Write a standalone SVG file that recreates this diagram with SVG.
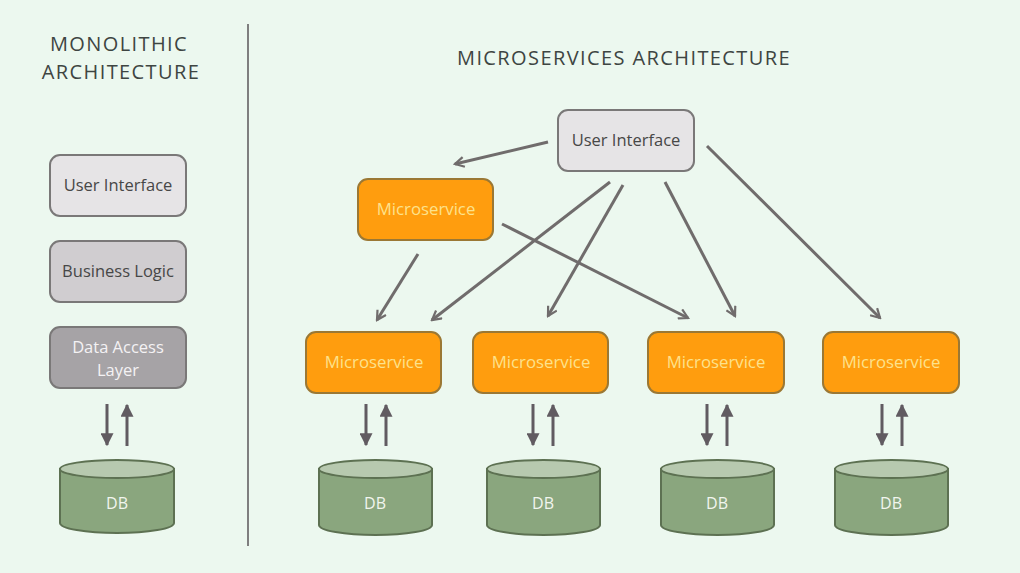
<svg xmlns="http://www.w3.org/2000/svg" width="1020" height="573" viewBox="0 0 1020 573">
<defs>
<marker id="open" viewBox="0 0 12 12" refX="10" refY="6" markerWidth="12" markerHeight="12" markerUnits="userSpaceOnUse" orient="auto">
<path d="M1,1 L10,6 L1,11" fill="none" stroke="#706c6c" stroke-width="2.2"/>
</marker>
<marker id="solid" viewBox="0 0 10 10" refX="9" refY="5" markerWidth="13" markerHeight="13" markerUnits="userSpaceOnUse" orient="auto">
<path d="M0,0 L10,5 L0,10 Z" fill="#615b61"/>
</marker>
</defs>
<style>
text{font-family:"Open Sans","Liberation Sans",sans-serif;text-anchor:middle}
.title{font-size:20px;fill:#3e4542;letter-spacing:1.4px}
.box{stroke:#7a7878;stroke-width:2}
.ms rect{fill:#ff9d0e;stroke:#9b7834;stroke-width:2}
.ms text{fill:#fde28c;font-size:16.8px}
.lbl{font-size:16.5px;fill:#474747}
.db .body{fill:#8aa67e;stroke:#5d7152;stroke-width:2}
.db .top{fill:#b7c9af;stroke:#5d7152;stroke-width:2}
.db text{fill:#f1f5ee;font-size:16px}
.con{stroke:#706c6c;stroke-width:3;fill:none;marker-end:url(#open)}
.dbarr{stroke:#615b61;stroke-width:3;fill:none;marker-end:url(#solid)}
</style>
<rect width="1020" height="573" fill="#ecf8ef"/>
<line x1="248" y1="24" x2="248" y2="546" stroke="#7f7f7f" stroke-width="2"/>
<text class="title" x="119" y="51">MONOLITHIC</text>
<text class="title" x="121" y="79">ARCHITECTURE</text>
<text class="title" x="624" y="65">MICROSERVICES ARCHITECTURE</text>

<g id="mono-ui"><rect class="box" x="50" y="155" width="136" height="61" rx="10" fill="#e6e4e6"/><text class="lbl" x="118" y="191">User Interface</text></g>
<g id="mono-bl"><rect class="box" x="50" y="241" width="136" height="61" rx="10" fill="#d0cdd0"/><text class="lbl" x="118" y="277">Business Logic</text></g>
<g id="mono-dal"><rect class="box" x="50" y="327" width="136" height="61" rx="10" fill="#a6a3a6"/><text x="118" y="353" style="font-size:16.5px;fill:#f4f2f4">Data Access</text><text x="118" y="376" style="font-size:16.5px;fill:#f4f2f4">Layer</text></g>
<g id="mono-db" class="db"><path class="body" d="M60,469 L60,523 A57,10 0 0 0 174,523 L174,469 Z"/><ellipse class="top" cx="117" cy="469" rx="57" ry="9"/><text x="117" y="509">DB</text></g>

<g id="ui"><rect class="box" x="558" y="110" width="136" height="61" rx="10" fill="#e6e4e6"/><text class="lbl" x="626" y="146">User Interface</text></g>
<g id="ms-top" class="ms"><rect x="358" y="179" width="135" height="61" rx="10"/><text x="426" y="215">Microservice</text></g>
<g id="ms1" class="ms"><rect x="306" y="332" width="135" height="61" rx="10"/><text x="374" y="368">Microservice</text></g>
<g id="ms2" class="ms"><rect x="473" y="332" width="135" height="61" rx="10"/><text x="541" y="368">Microservice</text></g>
<g id="ms3" class="ms"><rect x="648" y="332" width="136" height="61" rx="10"/><text x="716" y="368">Microservice</text></g>
<g id="ms4" class="ms"><rect x="823" y="332" width="136" height="61" rx="10"/><text x="891" y="368">Microservice</text></g>

<g id="db1" class="db"><path class="body" d="M319,469 L319,525 A56.5,10 0 0 0 432,525 L432,469 Z"/><ellipse class="top" cx="375.5" cy="469" rx="56.5" ry="9"/><text x="375" y="509">DB</text></g>
<g id="db2" class="db"><path class="body" d="M487,469 L487,525 A56.5,10 0 0 0 600,525 L600,469 Z"/><ellipse class="top" cx="543.5" cy="469" rx="56.5" ry="9"/><text x="543" y="509">DB</text></g>
<g id="db3" class="db"><path class="body" d="M661,469 L661,525 A56.5,10 0 0 0 774,525 L774,469 Z"/><ellipse class="top" cx="717.5" cy="469" rx="56.5" ry="9"/><text x="717" y="509">DB</text></g>
<g id="db4" class="db"><path class="body" d="M835,469 L835,525 A56.5,10 0 0 0 948,525 L948,469 Z"/><ellipse class="top" cx="891.5" cy="469" rx="56.5" ry="9"/><text x="891" y="509">DB</text></g>

<g id="connectors">
<line class="con" x1="548" y1="142" x2="455" y2="164"/>
<line class="con" x1="610" y1="182" x2="432" y2="320"/>
<line class="con" x1="623" y1="185" x2="548" y2="316"/>
<line class="con" x1="665" y1="182" x2="735" y2="316"/>
<line class="con" x1="707" y1="146" x2="880" y2="318"/>
<line class="con" x1="502" y1="224" x2="688" y2="318"/>
<line class="con" x1="418" y1="254" x2="377" y2="320"/>
<line class="dbarr" x1="107" y1="404" x2="107" y2="445"/>
<line class="dbarr" x1="127" y1="446" x2="127" y2="405"/>
<line class="dbarr" x1="366" y1="404" x2="366" y2="445"/>
<line class="dbarr" x1="386" y1="446" x2="386" y2="405"/>
<line class="dbarr" x1="533" y1="404" x2="533" y2="445"/>
<line class="dbarr" x1="553" y1="446" x2="553" y2="405"/>
<line class="dbarr" x1="707" y1="404" x2="707" y2="445"/>
<line class="dbarr" x1="727" y1="446" x2="727" y2="405"/>
<line class="dbarr" x1="882" y1="404" x2="882" y2="445"/>
<line class="dbarr" x1="902" y1="446" x2="902" y2="405"/>
</g>
</svg>
